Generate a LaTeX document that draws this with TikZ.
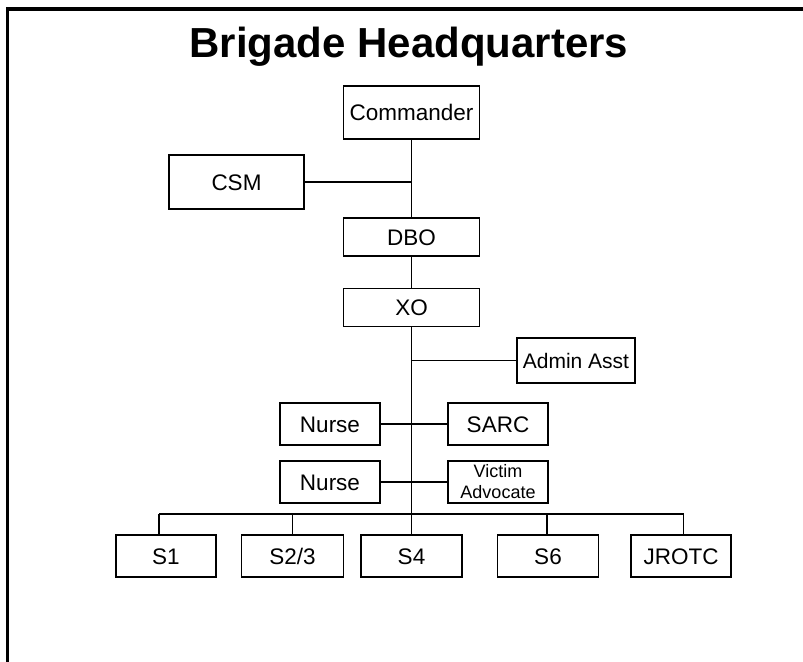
\documentclass[tikz,border=0pt]{standalone}
\usepackage{fontspec}
\setmainfont{Liberation Sans}
\begin{document}
\begin{tikzpicture}[x=1bp,y=-1bp,
  box/.style={draw,line width=1.9bp,rectangle,inner sep=0pt,anchor=center,
    text height=16.2bp,text depth=0pt,
    font=\fontsize{22.5bp}{26bp}\selectfont},
  conn/.style={line width=1.9bp},
  frame/.style={line width=3.2bp}]
\useasboundingbox (0,0) rectangle (803,662);
\draw[frame] (7.5,662) -- (7.5,9) -- (803,9);
\node[anchor=base,font=\bfseries\fontsize{42bp}{50bp}\selectfont] (title) at (409,58) {Brigade Headquarters};
\node[box,minimum width=136bp,minimum height=53bp] (cmd) at (411.5,112.5) {Commander};
\node[box,minimum width=135bp,minimum height=54bp] (csm) at (236.5,182) {CSM};
\node[box,minimum width=136bp,minimum height=38bp] (dbo) at (411.5,237) {DBO};
\node[box,minimum width=136bp,minimum height=38bp] (xo) at (411.5,307.5) {XO};
\node[box,minimum width=118bp,minimum height=45bp,text height=15.1bp,font=\fontsize{21bp}{25bp}\selectfont] (admin) at (576,360.5) {Admin Asst};
\node[box,minimum width=100bp,minimum height=42bp] (nurse1) at (330,424) {Nurse};
\node[box,minimum width=100bp,minimum height=42bp] (sarc) at (498,424) {SARC};
\node[box,minimum width=100bp,minimum height=42bp] (nurse2) at (330,482) {Nurse};
\node[box,minimum width=100bp,minimum height=42bp,align=center,text height=,text depth=,font=\fontsize{18bp}{21bp}\selectfont] (victim) at (498,482) {Victim\\Advocate};
\node[box,minimum width=100bp,minimum height=42bp] (s1) at (166,556) {S1};
\node[box,minimum width=102bp,minimum height=42bp] (s23) at (292.5,556) {S2/3};
\node[box,minimum width=101bp,minimum height=42bp] (s4) at (411.5,556) {S4};
\node[box,minimum width=101bp,minimum height=42bp] (s6) at (548,556) {S6};
\node[box,minimum width=100bp,minimum height=42bp] (jrotc) at (681,556) {JROTC};
\coordinate (d1) at (159,514);
\coordinate (d2) at (292.5,514);
\coordinate (d4) at (547,514);
\coordinate (d5) at (683.5,514);
\draw[conn] (cmd.south) -- (dbo.north);
\draw[conn] (csm.east) -- (csm.east -| cmd.south);
\draw[conn] (dbo.south) -- (xo.north);
\draw[conn] (xo.south) -- (s4.north);
\draw[conn] (admin.west) -- (admin.west -| xo.south);
\draw[conn] (nurse1.east) -- (sarc.west);
\draw[conn] (nurse2.east) -- (victim.west);
\draw[conn] (d1) -- (d5);
\draw[conn] (d1) -- (d1 |- s1.north);
\draw[conn] (d2) -- (d2 |- s23.north);
\draw[conn] (d4) -- (d4 |- s6.north);
\draw[conn] (d5) -- (d5 |- jrotc.north);
\end{tikzpicture}
\end{document}
